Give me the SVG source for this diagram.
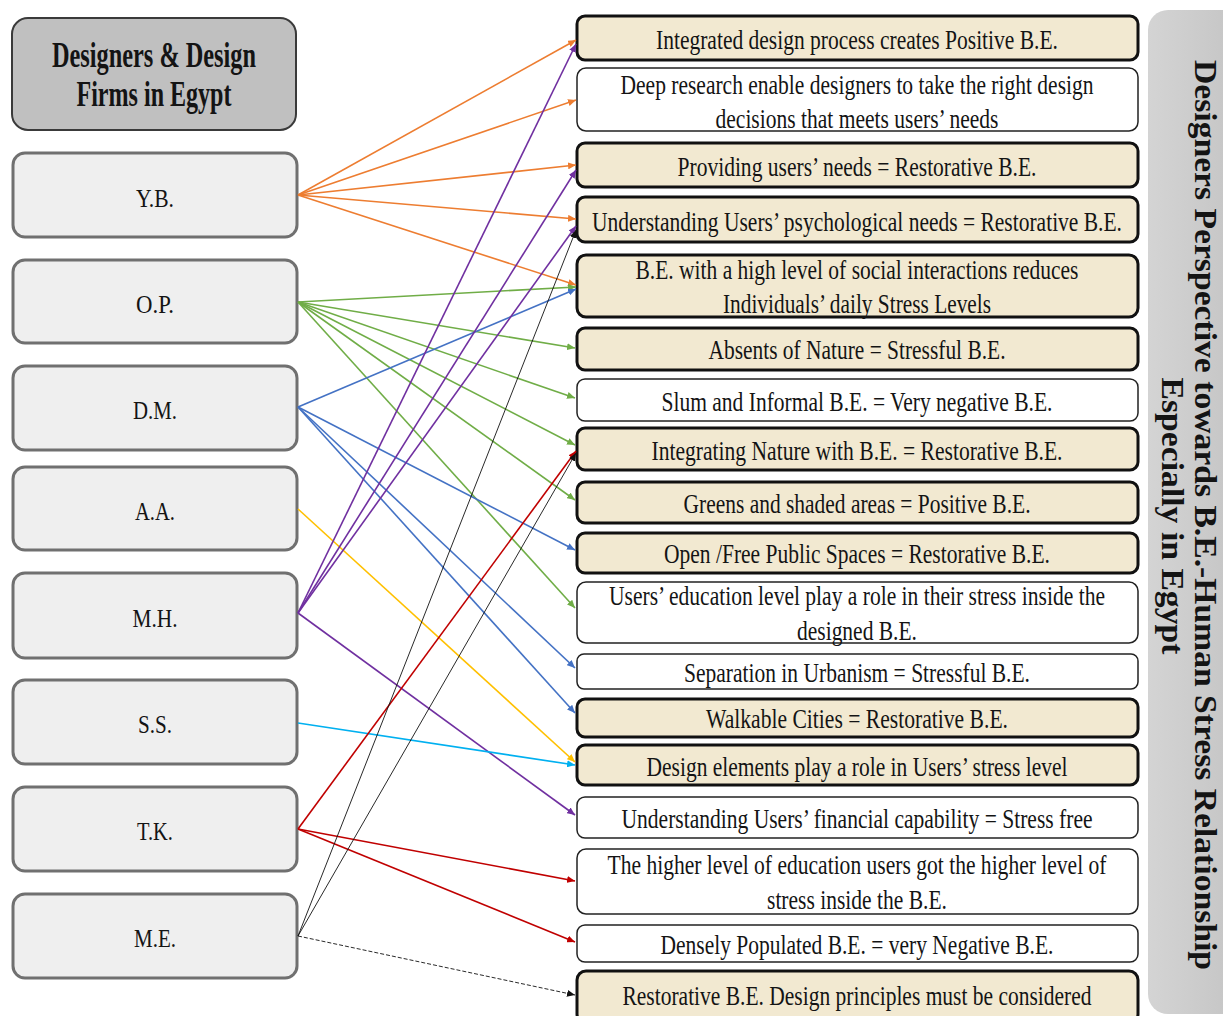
<svg xmlns="http://www.w3.org/2000/svg" width="1223" height="1016" viewBox="0 0 1223 1016">
  <defs>
    <style>
      .serif { font-family: "Liberation Serif", "Times New Roman", serif; fill: #141414; }
      .hdr { fill: #c0c0c0; stroke: #3a3a3a; stroke-width: 2; }
      .src { fill: #efefef; stroke: #707070; stroke-width: 3; }
      .bb { fill: #f2e9d1; stroke: #111; stroke-width: 3; }
      .bw { fill: #ffffff; stroke: #222; stroke-width: 1.5; }
      .hdr-t { font-size: 35px; font-weight: bold; text-anchor: middle; }
      .src-t { font-size: 25px; text-anchor: middle; }
      .bx-t { font-size: 28px; text-anchor: middle; }
      .side-t { font-size: 31px; font-weight: bold; text-anchor: middle; }
      .c { fill: none; stroke-width: 1.6; }
      .or { stroke: #ed7d31; marker-end: url(#m-or); }
      .gr { stroke: #70ad47; marker-end: url(#m-gr); }
      .bl { stroke: #4472c4; marker-end: url(#m-bl); }
      .ye { stroke: #ffc000; marker-end: url(#m-ye); }
      .pu { stroke: #7030a0; marker-end: url(#m-pu); }
      .rd { stroke: #c00000; marker-end: url(#m-rd); }
      .cy { stroke: #00b0f0; marker-end: url(#m-cy); }
      .bk { stroke: #111; stroke-width: 0.9; marker-end: url(#m-bk); }
      .dash { stroke-dasharray: 4 2; }
    </style>
    <linearGradient id="sideFill" x1="0" y1="0" x2="1" y2="0">
      <stop offset="0" stop-color="#d4d4d4"/>
      <stop offset="1" stop-color="#c4c4c4"/>
    </linearGradient>
    <marker id="m-or" viewBox="0 0 8 7" refX="8" refY="3.5" markerWidth="8" markerHeight="7" markerUnits="userSpaceOnUse" orient="auto"><path d="M0,0 L8,3.5 L0,7 z" fill="#ed7d31"/></marker>
    <marker id="m-gr" viewBox="0 0 8 7" refX="8" refY="3.5" markerWidth="8" markerHeight="7" markerUnits="userSpaceOnUse" orient="auto"><path d="M0,0 L8,3.5 L0,7 z" fill="#70ad47"/></marker>
    <marker id="m-bl" viewBox="0 0 8 7" refX="8" refY="3.5" markerWidth="8" markerHeight="7" markerUnits="userSpaceOnUse" orient="auto"><path d="M0,0 L8,3.5 L0,7 z" fill="#4472c4"/></marker>
    <marker id="m-ye" viewBox="0 0 8 7" refX="8" refY="3.5" markerWidth="8" markerHeight="7" markerUnits="userSpaceOnUse" orient="auto"><path d="M0,0 L8,3.5 L0,7 z" fill="#ffc000"/></marker>
    <marker id="m-pu" viewBox="0 0 8 7" refX="8" refY="3.5" markerWidth="8" markerHeight="7" markerUnits="userSpaceOnUse" orient="auto"><path d="M0,0 L8,3.5 L0,7 z" fill="#7030a0"/></marker>
    <marker id="m-rd" viewBox="0 0 8 7" refX="8" refY="3.5" markerWidth="8" markerHeight="7" markerUnits="userSpaceOnUse" orient="auto"><path d="M0,0 L8,3.5 L0,7 z" fill="#c00000"/></marker>
    <marker id="m-cy" viewBox="0 0 8 7" refX="8" refY="3.5" markerWidth="8" markerHeight="7" markerUnits="userSpaceOnUse" orient="auto"><path d="M0,0 L8,3.5 L0,7 z" fill="#00b0f0"/></marker>
    <marker id="m-bk" viewBox="0 0 8 7" refX="8" refY="3.5" markerWidth="8" markerHeight="7" markerUnits="userSpaceOnUse" orient="auto"><path d="M0,0 L8,3.5 L0,7 z" fill="#111"/></marker>
  </defs>

  <rect width="1223" height="1016" fill="#ffffff"/>

  <!-- side title panel -->
  <g id="side-title">
    <rect x="1148" y="10" width="95" height="1004" rx="20" fill="url(#sideFill)"/>
    <text class="serif side-t" transform="translate(1195,515) rotate(90)" textLength="910" lengthAdjust="spacingAndGlyphs">Designers Perspective towards B.E.-Human Stress Relationship</text>
    <text class="serif side-t" transform="translate(1162,516) rotate(90)" textLength="277" lengthAdjust="spacingAndGlyphs">Especially in Egypt</text>
  </g>

  <!-- left column: header and firms -->
  <g id="header">
    <rect class="hdr" x="12" y="18" width="284" height="112" rx="16"/>
    <text class="serif hdr-t" x="154" y="67" textLength="204" lengthAdjust="spacingAndGlyphs">Designers &amp; Design</text>
    <text class="serif hdr-t" x="154" y="106" textLength="155" lengthAdjust="spacingAndGlyphs">Firms in Egypt</text>
  </g>
  <g id="yb"><rect class="src" x="13" y="153" width="284" height="84" rx="12"/><text class="serif src-t" x="155" y="207" textLength="38" lengthAdjust="spacingAndGlyphs">Y.B.</text></g>
  <g id="op"><rect class="src" x="13" y="260" width="284" height="83" rx="12"/><text class="serif src-t" x="155" y="313" textLength="38" lengthAdjust="spacingAndGlyphs">O.P.</text></g>
  <g id="dm"><rect class="src" x="13" y="366" width="284" height="84" rx="12"/><text class="serif src-t" x="155" y="419" textLength="44" lengthAdjust="spacingAndGlyphs">D.M.</text></g>
  <g id="aa"><rect class="src" x="13" y="467" width="284" height="83" rx="12"/><text class="serif src-t" x="155" y="520" textLength="40" lengthAdjust="spacingAndGlyphs">A.A.</text></g>
  <g id="mh"><rect class="src" x="13" y="573" width="284" height="85" rx="12"/><text class="serif src-t" x="155" y="627" textLength="45" lengthAdjust="spacingAndGlyphs">M.H.</text></g>
  <g id="ss"><rect class="src" x="13" y="680" width="284" height="84" rx="12"/><text class="serif src-t" x="155" y="733" textLength="34" lengthAdjust="spacingAndGlyphs">S.S.</text></g>
  <g id="tk"><rect class="src" x="13" y="787" width="284" height="84" rx="12"/><text class="serif src-t" x="155" y="840" textLength="36" lengthAdjust="spacingAndGlyphs">T.K.</text></g>
  <g id="me"><rect class="src" x="13" y="894" width="284" height="84" rx="12"/><text class="serif src-t" x="155" y="947" textLength="42" lengthAdjust="spacingAndGlyphs">M.E.</text></g>

  <!-- right column: perspectives -->
  <g id="p01"><rect class="bb" x="577" y="16" width="561" height="44" rx="8"/><text class="serif bx-t" x="857" y="49" textLength="402" lengthAdjust="spacingAndGlyphs">Integrated design process creates Positive B.E.</text></g>
  <g id="p02"><rect class="bw" x="577" y="68" width="561" height="63" rx="9"/><text class="serif bx-t" x="857" y="94" textLength="473" lengthAdjust="spacingAndGlyphs">Deep research enable designers to take the right design</text><text class="serif bx-t" x="857" y="128" textLength="283" lengthAdjust="spacingAndGlyphs">decisions that meets users’ needs</text></g>
  <g id="p03"><rect class="bb" x="577" y="143" width="561" height="44" rx="8"/><text class="serif bx-t" x="857" y="176" textLength="359" lengthAdjust="spacingAndGlyphs">Providing users’ needs = Restorative B.E.</text></g>
  <g id="p04"><rect class="bb" x="577" y="197" width="561" height="45" rx="8"/><text class="serif bx-t" x="857" y="231" textLength="530" lengthAdjust="spacingAndGlyphs">Understanding Users’ psychological needs = Restorative B.E.</text></g>
  <g id="p05"><rect class="bb" x="577" y="255" width="561" height="62" rx="9"/><text class="serif bx-t" x="857" y="279" textLength="443" lengthAdjust="spacingAndGlyphs">B.E. with a high level of social interactions reduces</text><text class="serif bx-t" x="857" y="313" textLength="268" lengthAdjust="spacingAndGlyphs">Individuals’ daily Stress Levels</text></g>
  <g id="p06"><rect class="bb" x="577" y="328" width="561" height="42" rx="8"/><text class="serif bx-t" x="857" y="359" textLength="297" lengthAdjust="spacingAndGlyphs">Absents of Nature = Stressful B.E.</text></g>
  <g id="p07"><rect class="bw" x="577" y="379" width="561" height="42" rx="8"/><text class="serif bx-t" x="857" y="411" textLength="391" lengthAdjust="spacingAndGlyphs">Slum and Informal B.E. = Very negative B.E.</text></g>
  <g id="p08"><rect class="bb" x="577" y="428" width="561" height="42" rx="8"/><text class="serif bx-t" x="857" y="460" textLength="411" lengthAdjust="spacingAndGlyphs">Integrating Nature with B.E. = Restorative B.E.</text></g>
  <g id="p09"><rect class="bb" x="577" y="482" width="561" height="41" rx="8"/><text class="serif bx-t" x="857" y="513" textLength="347" lengthAdjust="spacingAndGlyphs">Greens and shaded areas = Positive B.E.</text></g>
  <g id="p10"><rect class="bb" x="577" y="533" width="561" height="40" rx="8"/><text class="serif bx-t" x="857" y="563" textLength="386" lengthAdjust="spacingAndGlyphs">Open /Free Public Spaces = Restorative B.E.</text></g>
  <g id="p11"><rect class="bw" x="577" y="582" width="561" height="61" rx="9"/><text class="serif bx-t" x="857" y="605" textLength="496" lengthAdjust="spacingAndGlyphs">Users’ education level play a role in their stress inside the</text><text class="serif bx-t" x="857" y="640" textLength="120" lengthAdjust="spacingAndGlyphs">designed B.E.</text></g>
  <g id="p12"><rect class="bw" x="577" y="654" width="561" height="35" rx="7"/><text class="serif bx-t" x="857" y="682" textLength="346" lengthAdjust="spacingAndGlyphs">Separation in Urbanism = Stressful B.E.</text></g>
  <g id="p13"><rect class="bb" x="577" y="699" width="561" height="38" rx="8"/><text class="serif bx-t" x="857" y="728" textLength="302" lengthAdjust="spacingAndGlyphs">Walkable Cities = Restorative B.E.</text></g>
  <g id="p14"><rect class="bb" x="577" y="745" width="561" height="40" rx="8"/><text class="serif bx-t" x="857" y="776" textLength="421" lengthAdjust="spacingAndGlyphs">Design elements play a role in Users’ stress level</text></g>
  <g id="p15"><rect class="bw" x="577" y="797" width="561" height="41" rx="8"/><text class="serif bx-t" x="857" y="828" textLength="471" lengthAdjust="spacingAndGlyphs">Understanding Users’ financial capability = Stress free</text></g>
  <g id="p16"><rect class="bw" x="577" y="849" width="561" height="65" rx="9"/><text class="serif bx-t" x="857" y="874" textLength="499" lengthAdjust="spacingAndGlyphs">The higher level of education users got the higher level of</text><text class="serif bx-t" x="857" y="909" textLength="180" lengthAdjust="spacingAndGlyphs">stress inside the B.E.</text></g>
  <g id="p17"><rect class="bw" x="577" y="925" width="561" height="37" rx="8"/><text class="serif bx-t" x="857" y="954" textLength="393" lengthAdjust="spacingAndGlyphs">Densely Populated B.E. = very Negative B.E.</text></g>
  <g id="p18"><rect class="bb" x="577" y="971" width="561" height="52" rx="9"/><text class="serif bx-t" x="857" y="1005" textLength="469" lengthAdjust="spacingAndGlyphs">Restorative B.E. Design principles must be considered</text></g>

  <!-- connectors -->
  <g id="connectors">
    <!-- Y.B. -->
    <line class="c or" x1="298" y1="195" x2="576" y2="40"/>
    <line class="c or" x1="298" y1="195" x2="576" y2="100"/>
    <line class="c or" x1="298" y1="195" x2="576" y2="165"/>
    <line class="c or" x1="298" y1="195" x2="576" y2="219"/>
    <line class="c or" x1="298" y1="195" x2="576" y2="285"/>
    <!-- O.P. -->
    <line class="c gr" x1="298" y1="302" x2="576" y2="287"/>
    <line class="c gr" x1="298" y1="302" x2="575" y2="348"/>
    <line class="c gr" x1="298" y1="302" x2="575" y2="398"/>
    <line class="c gr" x1="298" y1="302" x2="575" y2="445"/>
    <line class="c gr" x1="298" y1="302" x2="575" y2="500"/>
    <line class="c gr" x1="298" y1="302" x2="575" y2="608"/>
    <!-- D.M. -->
    <line class="c bl" x1="298" y1="407" x2="576" y2="289"/>
    <line class="c bl" x1="298" y1="407" x2="575" y2="550"/>
    <line class="c bl" x1="298" y1="407" x2="575" y2="668"/>
    <line class="c bl" x1="298" y1="407" x2="575" y2="713"/>
    <!-- A.A. -->
    <line class="c ye" x1="298" y1="509" x2="575" y2="762"/>
    <!-- M.H. -->
    <line class="c pu" x1="298" y1="613" x2="576" y2="44"/>
    <line class="c pu" x1="298" y1="613" x2="576" y2="170"/>
    <line class="c pu" x1="298" y1="613" x2="576" y2="226"/>
    <line class="c pu" x1="298" y1="613" x2="575" y2="815"/>
    <!-- S.S. -->
    <line class="c cy" x1="298" y1="723" x2="575" y2="765"/>
    <!-- T.K. -->
    <line class="c rd" x1="298" y1="829" x2="576" y2="451"/>
    <line class="c rd" x1="298" y1="829" x2="575" y2="881"/>
    <line class="c rd" x1="298" y1="829" x2="575" y2="942"/>
    <!-- M.E. -->
    <line class="c bk" x1="298" y1="936" x2="576" y2="230"/>
    <line class="c bk" x1="298" y1="936" x2="576" y2="453"/>
    <line class="c bk dash" x1="298" y1="936" x2="575" y2="995"/>
  </g>
</svg>
